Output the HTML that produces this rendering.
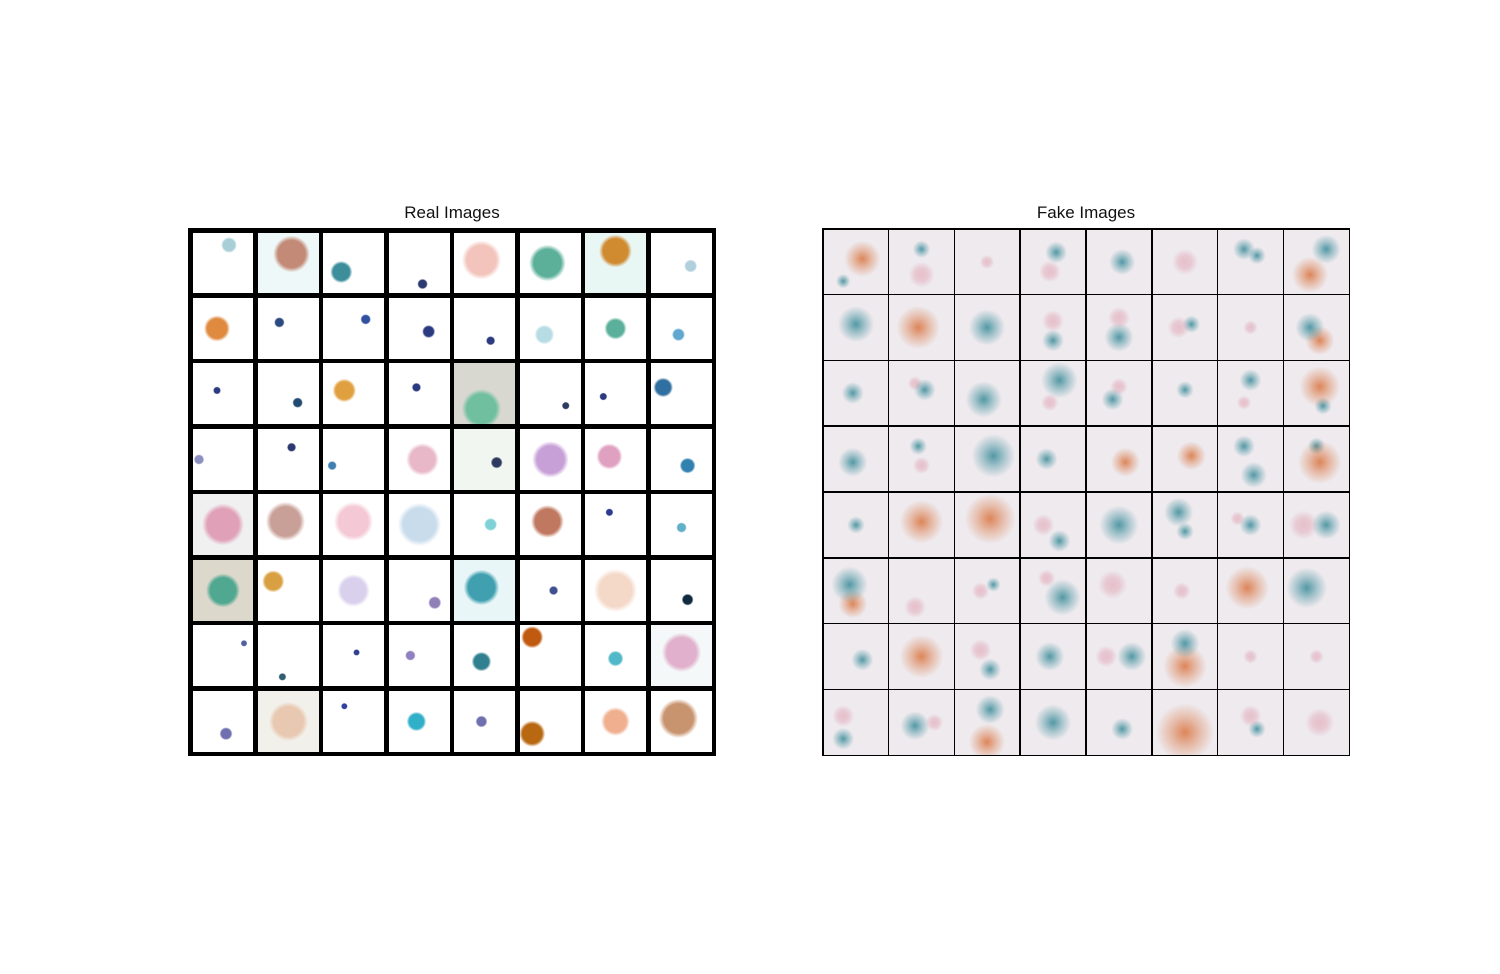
<!DOCTYPE html>
<html><head><meta charset="utf-8"><style>
body{margin:0;background:#fff;width:1500px;height:974px;position:relative;overflow:hidden;font-family:"Liberation Sans",sans-serif}
.title{position:absolute;top:203px;font-size:17px;color:#111;text-align:center;width:528px}
.grid{position:absolute;top:228px;width:528px;height:528px}
.cell{position:absolute;overflow:hidden}
</style></head><body>
<div class="title" style="left:188px">Real Images</div>
<div class="title" style="left:822px">Fake Images</div>
<div class="grid" id="real" style="left:188px;background:#000"></div>
<div class="grid" id="fake" style="left:822px;background:#000"></div>
<script>
// real cells: [bg, x, y, r, color] (fractions)
const realCells=[
["#fff",.6,.2,.12,"#a8cfd8"],["#eef8f8",.55,.35,.28,"#c48a78"],["#fff",.3,.65,.17,"#3c8e9a"],["#fff",.55,.85,.08,"#2c3a70"],["#fff",.45,.45,.3,"#f2c4bc"],["#fff",.45,.5,.28,"#5cb09a"],["#e8f6f4",.5,.3,.25,"#d08a30"],["#fff",.65,.55,.1,"#b0d0dc"],
["#fff",.4,.5,.2,"#e08a40"],["#fff",.35,.4,.08,"#2c4a80"],["#fff",.7,.35,.08,"#3050a0"],["#fff",.65,.55,.1,"#2c3a80"],["#fff",.6,.7,.07,"#2c3a80"],["#fff",.4,.6,.15,"#b8dce4"],["#fff",.5,.5,.17,"#5ab09a"],["#fff",.45,.6,.1,"#60a8d0"],
["#fff",.4,.45,.06,"#2c3a80"],["#fff",.65,.65,.08,"#204a70"],["#fff",.35,.45,.18,"#e0a040"],["#fff",.45,.4,.07,"#2c3a80"],["#d8d8d0",.45,.75,.3,"#70c0a0"],["#fff",.75,.7,.06,"#2c3a60"],["#fff",.3,.55,.06,"#2c3a80"],["#fff",.2,.4,.15,"#3070a0"],
["#fff",.1,.5,.08,"#8a90c0"],["#fff",.55,.3,.07,"#2c3a70"],["#fff",.15,.6,.07,"#4080b0"],["#fff",.55,.5,.25,"#e8b8c8"],["#f2f6f0",.7,.55,.09,"#2c3a60"],["#fff",.5,.5,.28,"#c8a0d8"],["#fff",.4,.45,.2,"#e0a0c0"],["#fff",.6,.6,.12,"#3080b0"],
["#f0f0f0",.5,.5,.32,"#e0a0b8"],["#fff",.45,.45,.3,"#c8a098"],["#fff",.5,.45,.3,"#f4c8d4"],["#fff",.5,.5,.33,"#c8dcec"],["#fff",.6,.5,.1,"#80d0d8"],["#fff",.45,.45,.25,"#c07860"],["#fff",.4,.3,.06,"#2c3a90"],["#fff",.5,.55,.08,"#60b0c8"],
["#ddd8cc",.5,.5,.26,"#50a890"],["#fff",.25,.35,.17,"#d8a040"],["#fff",.5,.5,.25,"#d8d0ec"],["#fff",.75,.7,.1,"#9080b8"],["#e8f6f8",.45,.45,.27,"#40a0b0"],["#fff",.55,.5,.07,"#405090"],["#fff",.5,.5,.33,"#f4d8c8"],["#fff",.6,.65,.09,"#102a40"],
["#fff",.85,.3,.05,"#5060a0"],["#fff",.4,.85,.06,"#306070"],["#fff",.55,.45,.05,"#304090"],["#fff",.35,.5,.08,"#9080c0"],["#fff",.45,.6,.15,"#308090"],["#fff",.2,.2,.17,"#c05a10"],["#fff",.5,.55,.12,"#50b8c8"],["#f4f8f8",.5,.45,.3,"#e0b0cc"],
["#fff",.55,.7,.1,"#7070b0"],["#f2f0ea",.5,.5,.3,"#e8c8b0"],["#fff",.35,.25,.05,"#3040a0"],["#fff",.45,.5,.15,"#30b0c8"],["#fff",.45,.5,.09,"#7070b0"],["#fff",.2,.7,.2,"#b86810"],["#fff",.5,.5,.22,"#f0b090"],["#fff",.45,.45,.3,"#c89470"]
];
// fake cells: blob lists [x,y,r,type] type 0=teal,1=orange,2=pink
const fakeCells=[
[[.6,.45,.25,1],[.3,.8,.1,0]],[[.5,.3,.12,0],[.5,.7,.18,2]],[[.5,.5,.1,2]],[[.55,.35,.15,0],[.45,.65,.15,2]],[[.55,.5,.18,0]],[[.5,.5,.18,2]],[[.4,.3,.15,0],[.6,.4,.12,0]],[[.65,.3,.2,0],[.4,.7,.25,1]],
[[.5,.45,.25,0]],[[.45,.5,.3,1]],[[.5,.5,.25,0]],[[.5,.4,.15,2],[.5,.7,.15,0]],[[.5,.35,.15,2],[.5,.65,.2,0]],[[.4,.5,.15,2],[.6,.45,.12,0]],[[.5,.5,.1,2]],[[.4,.5,.2,0],[.55,.7,.2,1]],
[[.45,.5,.15,0]],[[.55,.45,.15,0],[.4,.35,.1,2]],[[.45,.6,.25,0]],[[.6,.3,.25,0],[.45,.65,.12,2]],[[.5,.4,.12,2],[.4,.6,.15,0]],[[.5,.45,.12,0]],[[.5,.3,.15,0],[.4,.65,.1,2]],[[.55,.4,.28,1],[.6,.7,.12,0]],
[[.45,.55,.2,0]],[[.45,.3,.12,0],[.5,.6,.12,2]],[[.6,.45,.3,0]],[[.4,.5,.15,0]],[[.6,.55,.2,1]],[[.6,.45,.2,1]],[[.4,.3,.15,0],[.55,.75,.18,0]],[[.55,.55,.3,1],[.5,.3,.12,0]],
[[.5,.5,.12,0]],[[.5,.45,.3,1]],[[.55,.4,.35,1]],[[.35,.5,.15,2],[.6,.75,.15,0]],[[.5,.5,.27,0]],[[.4,.3,.2,0],[.5,.6,.12,0]],[[.5,.5,.15,0],[.3,.4,.1,2]],[[.3,.5,.2,2],[.65,.5,.2,0]],
[[.4,.4,.25,0],[.45,.7,.2,1]],[[.4,.75,.15,2]],[[.4,.5,.12,2],[.6,.4,.1,0]],[[.65,.6,.25,0],[.4,.3,.12,2]],[[.4,.4,.2,2]],[[.45,.5,.12,2]],[[.45,.45,.3,1]],[[.35,.45,.28,0]],
[[.6,.55,.15,0]],[[.5,.5,.3,1]],[[.4,.4,.15,2],[.55,.7,.15,0]],[[.45,.5,.2,0]],[[.3,.5,.15,2],[.7,.5,.2,0]],[[.5,.3,.2,0],[.5,.65,.3,1]],[[.5,.5,.1,2]],[[.5,.5,.1,2]],
[[.3,.4,.15,2],[.3,.75,.15,0]],[[.4,.55,.2,0],[.7,.5,.12,2]],[[.55,.3,.2,0],[.5,.8,.25,1]],[[.5,.5,.25,0]],[[.55,.6,.15,0]],[[.5,.65,.4,1]],[[.5,.4,.15,2],[.6,.6,.12,0]],[[.55,.5,.2,2]]
];
const fakeColors=["rgba(30,125,140,0.75)","rgba(215,100,40,0.75)","rgba(220,140,160,0.45)"];
const N=8,SIZE=528;
function build(el,cells,b,fn,name){
  const P=(SIZE-b)/N;
  cells.forEach((c,i)=>{
    const d=document.createElement('div');
    
    
    d.className='cell';
    const r=Math.floor(i/N),k=i%N;
    d.style.left=(k*P+b)+'px';d.style.top=(r*P+b)+'px';
    d.style.width=(P-b)+'px';d.style.height=(P-b)+'px';
    d.style.background=fn(c,P);
    el.appendChild(d);
  });
}
build(document.getElementById('real'),realCells,4.5,(c,P)=>{
  const rp=c[3]*P;
  return `radial-gradient(circle ${rp.toFixed(1)}px at ${c[1]*100}% ${c[2]*100}%, ${c[4]} 0%, ${c[4]} 75%, transparent 100%), ${c[0]}`;
},'real-image-cell');
build(document.getElementById('fake'),fakeCells,1.5,(c,P)=>{
  const layers=c.map(bl=>`radial-gradient(circle ${(bl[2]*P*1.1).toFixed(1)}px at ${bl[0]*100}% ${bl[1]*100}%, ${fakeColors[bl[3]]} 0%, ${fakeColors[bl[3]].replace(/[\d.]+\)$/,'0.35)')} 50%, transparent 100%)`);
  layers.push('#eeeaee');
  return layers.join(',');
},'fake-image-cell');
</script>
</body></html>
